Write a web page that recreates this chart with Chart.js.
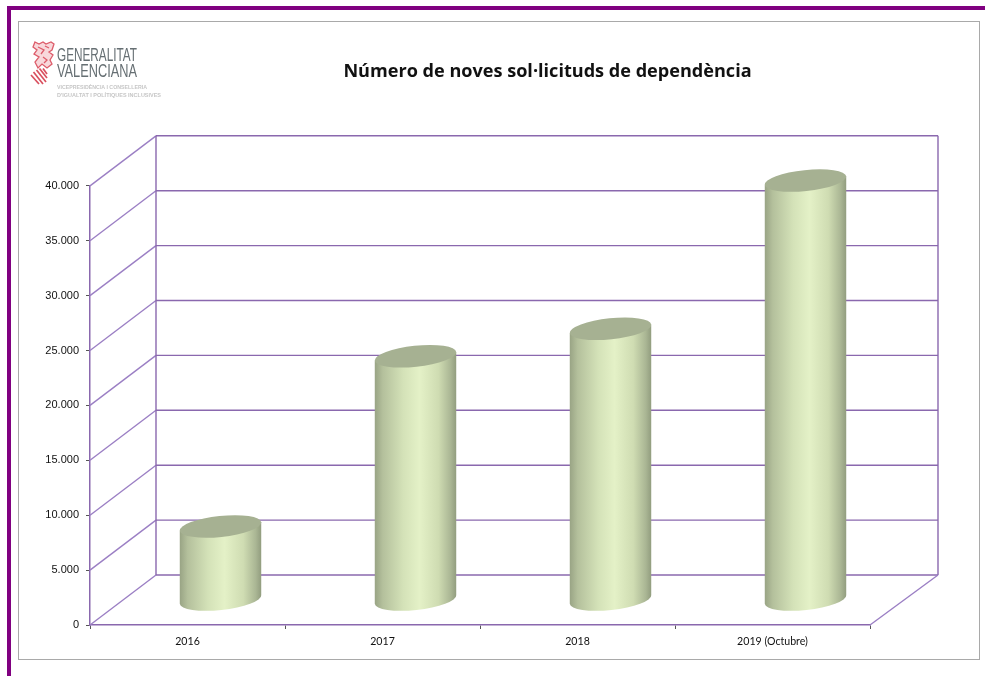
<!DOCTYPE html>
<html><head><meta charset="utf-8">
<style>
html,body{margin:0;padding:0;background:#fff;width:985px;height:676px;overflow:hidden}
#wrap{position:absolute;left:0;top:0;width:985px;height:676px;filter:blur(0.4px)}
.purple{position:absolute;background:#800080}
#inner{position:absolute;left:18px;top:21px;width:960px;height:637px;border:1.5px solid #a9a9a9;background:#fff}
#cv{position:absolute;left:0;top:0}
#logo{position:absolute;left:0;top:0}
</style></head><body>
<div id="wrap">
<div class="purple" style="left:7px;top:6px;width:978px;height:4px"></div>
<div class="purple" style="left:7px;top:6px;width:4px;height:670px"></div>
<div id="inner"></div>
<canvas id="cv" width="985" height="676"></canvas>
<svg id="logo" width="985" height="120" viewBox="0 0 985 120">
 <g>
  <path d="M35 42 L39 44 L43 42 L46 44 L51 42 L54 44 L52 50 L49 52 L53 55 L50 60 L52 64 L47 68 L42 64 L38 68 L35 62 L39 57 L34 54 L37 50 L33 47Z" fill="#f8d8db" stroke="#dd5c6a" stroke-width="1.3"/>
  <path d="M38 47 L44 50 L41 54 M45 46 L49 48 M43 57 L47 60 L44 63" fill="none" stroke="#dd5c6a" stroke-width="1.3"/>
  <g fill="none" stroke="#d9505f" stroke-width="1.7">
   <path d="M31 75 L39 84"/>
   <path d="M33.5 72 L43 84"/>
   <path d="M36.5 70 L46 82"/>
   <path d="M39.5 68.5 L47 78"/>
   <path d="M43 68.5 L47 74"/>
  </g>
 </g>
 <g font-family="'Liberation Sans',sans-serif">
  <text x="57" y="61" font-size="18" fill="#666f73" textLength="80" lengthAdjust="spacingAndGlyphs">GENERALITAT</text>
  <text x="57" y="77" font-size="18" fill="#666f73" textLength="80" lengthAdjust="spacingAndGlyphs">VALENCIANA</text>
  <text x="57" y="89" font-size="5.2" font-weight="bold" fill="#c6c6c6" textLength="90" lengthAdjust="spacingAndGlyphs">VICEPRESIDÈNCIA I CONSELLERIA</text>
  <text x="57" y="97" font-size="5.2" font-weight="bold" fill="#c6c6c6" textLength="104" lengthAdjust="spacingAndGlyphs">D'IGUALTAT I POLÍTIQUES INCLUSIVES</text>
 </g>
</svg>
</div>
<script src="https://cdn.jsdelivr.net/npm/chart.js@4/dist/chart.umd.js"></script>
<script>
const categories = ['2016','2017','2018','2019 (Octubre)'];
const solicituds = [6700, 22200, 24700, 38200];
const yMax = 40000;
const yStep = 5000;
const chartTitle = 'Número de noves sol·licituds de dependència';

const DEPTH_Y = -50, DEPTH_XL = 66, DEPTH_XR = 68;
const LINE_H = '#8a68ae', LINE_D = '#9b7fc4';

class CylinderElement extends Chart.BarElement {
  draw(ctx){
    const {x,y,base,width} = this.getProps(['x','y','base','width']);
    const cx = x + 33, top = y + DEPTH_Y/2, bot = base + DEPTH_Y/2;
    const a = width/2, b = 10.5, tilt = -6*Math.PI/180;
    const dx = a*Math.cos(tilt), dy = a*Math.sin(tilt);
    const g = ctx.createLinearGradient(cx-a,0,cx+a,0);
    g.addColorStop(0,'#98a384');
    g.addColorStop(0.1,'#b4c09c');
    g.addColorStop(0.35,'#d4e2b8');
    g.addColorStop(0.55,'#e4f1c7');
    g.addColorStop(0.78,'#cfdcb2');
    g.addColorStop(0.93,'#aab694');
    g.addColorStop(1,'#919c7e');
    ctx.save();
    ctx.beginPath();
    ctx.moveTo(cx-dx,top-dy);
    ctx.lineTo(cx-dx,bot-dy);
    ctx.ellipse(cx,bot,a,b,tilt,Math.PI,0,true);
    ctx.lineTo(cx+dx,top+dy);
    ctx.closePath();
    ctx.fillStyle = g; ctx.fill();
    ctx.beginPath();
    ctx.ellipse(cx,top,a,b,tilt,0,Math.PI*2);
    ctx.fillStyle = '#a6b192'; ctx.fill();
    ctx.restore();
  }
}
CylinderElement.id = 'cylinderBar';
class CylinderController extends Chart.BarController {}
CylinderController.id = 'cylinder';
CylinderController.defaults = Object.assign({}, Chart.BarController.defaults, {dataElementType:'cylinderBar'});
CylinderController.overrides = Chart.BarController.overrides;
Chart.register(CylinderElement, CylinderController);

const walls = {
  id:'walls',
  afterLayout(chart){
    const t = chart.titleBlock;
    t.left = 343; t.right = 752;
  },
  beforeDatasetsDraw(chart){
    const {ctx, chartArea:a, scales:{y}} = chart;
    const bl = a.left + DEPTH_XL, br = a.right + DEPTH_XR;
    ctx.save();
    ctx.lineWidth = 1.4;
    for(let v=0; v<=yMax; v+=yStep){
      const py = y.getPixelForValue(v);
      ctx.strokeStyle = LINE_D;
      ctx.beginPath(); ctx.moveTo(a.left,py); ctx.lineTo(bl,py+DEPTH_Y); ctx.stroke();
      ctx.strokeStyle = LINE_H;
      ctx.beginPath(); ctx.moveTo(bl,py+DEPTH_Y); ctx.lineTo(br,py+DEPTH_Y); ctx.stroke();
    }
    ctx.strokeStyle = LINE_H;
    const t = y.getPixelForValue(yMax)+DEPTH_Y, b = y.getPixelForValue(0)+DEPTH_Y;
    ctx.beginPath(); ctx.moveTo(bl,t); ctx.lineTo(bl,b); ctx.moveTo(br,t); ctx.lineTo(br,b); ctx.stroke();
    ctx.strokeStyle = LINE_D;
    ctx.beginPath(); ctx.moveTo(a.right,a.bottom); ctx.lineTo(br,b); ctx.stroke();
    ctx.restore();
  }
};

new Chart(document.getElementById('cv'),{
  type:'cylinder',
  data:{labels:categories,datasets:[{label:'Sol·licituds',data:solicituds,backgroundColor:'#d4e2b8',categoryPercentage:0.42,barPercentage:1,clip:false}]},
  plugins:[walls],
  options:{
    responsive:false,animation:false,
    layout:{padding:{left:0,right:115,top:0,bottom:0}},
    plugins:{
      legend:{display:false},tooltip:{enabled:false},
      title:{display:true,text:chartTitle,color:'#111',
        font:{family:"'Open Sans'",size:18.1,weight:'bold',lineHeight:1.2},
        padding:{top:60.5,bottom:103.6}}
    },
    scales:{
      x:{
        grid:{drawOnChartArea:false,tickLength:4,tickColor:'#555',offset:true},
        border:{color:LINE_H,width:1.5},
        ticks:{color:'#111',font:{family:"'Lato'",size:10.6},padding:6,maxRotation:0,autoSkip:false},
        afterFit(s){s.height=51;}
      },
      y:{
        min:0,max:yMax,
        grid:{drawOnChartArea:false,tickLength:4,tickColor:'#555'},
        border:{color:LINE_H,width:1.5},
        ticks:{stepSize:yStep,color:'#111',font:{family:"'Liberation Sans'",size:11},padding:7,
          callback:v=>v.toLocaleString('de-DE')},
        afterFit(s){s.width=90;}
      }
    }
  }
});
</script>
</body></html>
